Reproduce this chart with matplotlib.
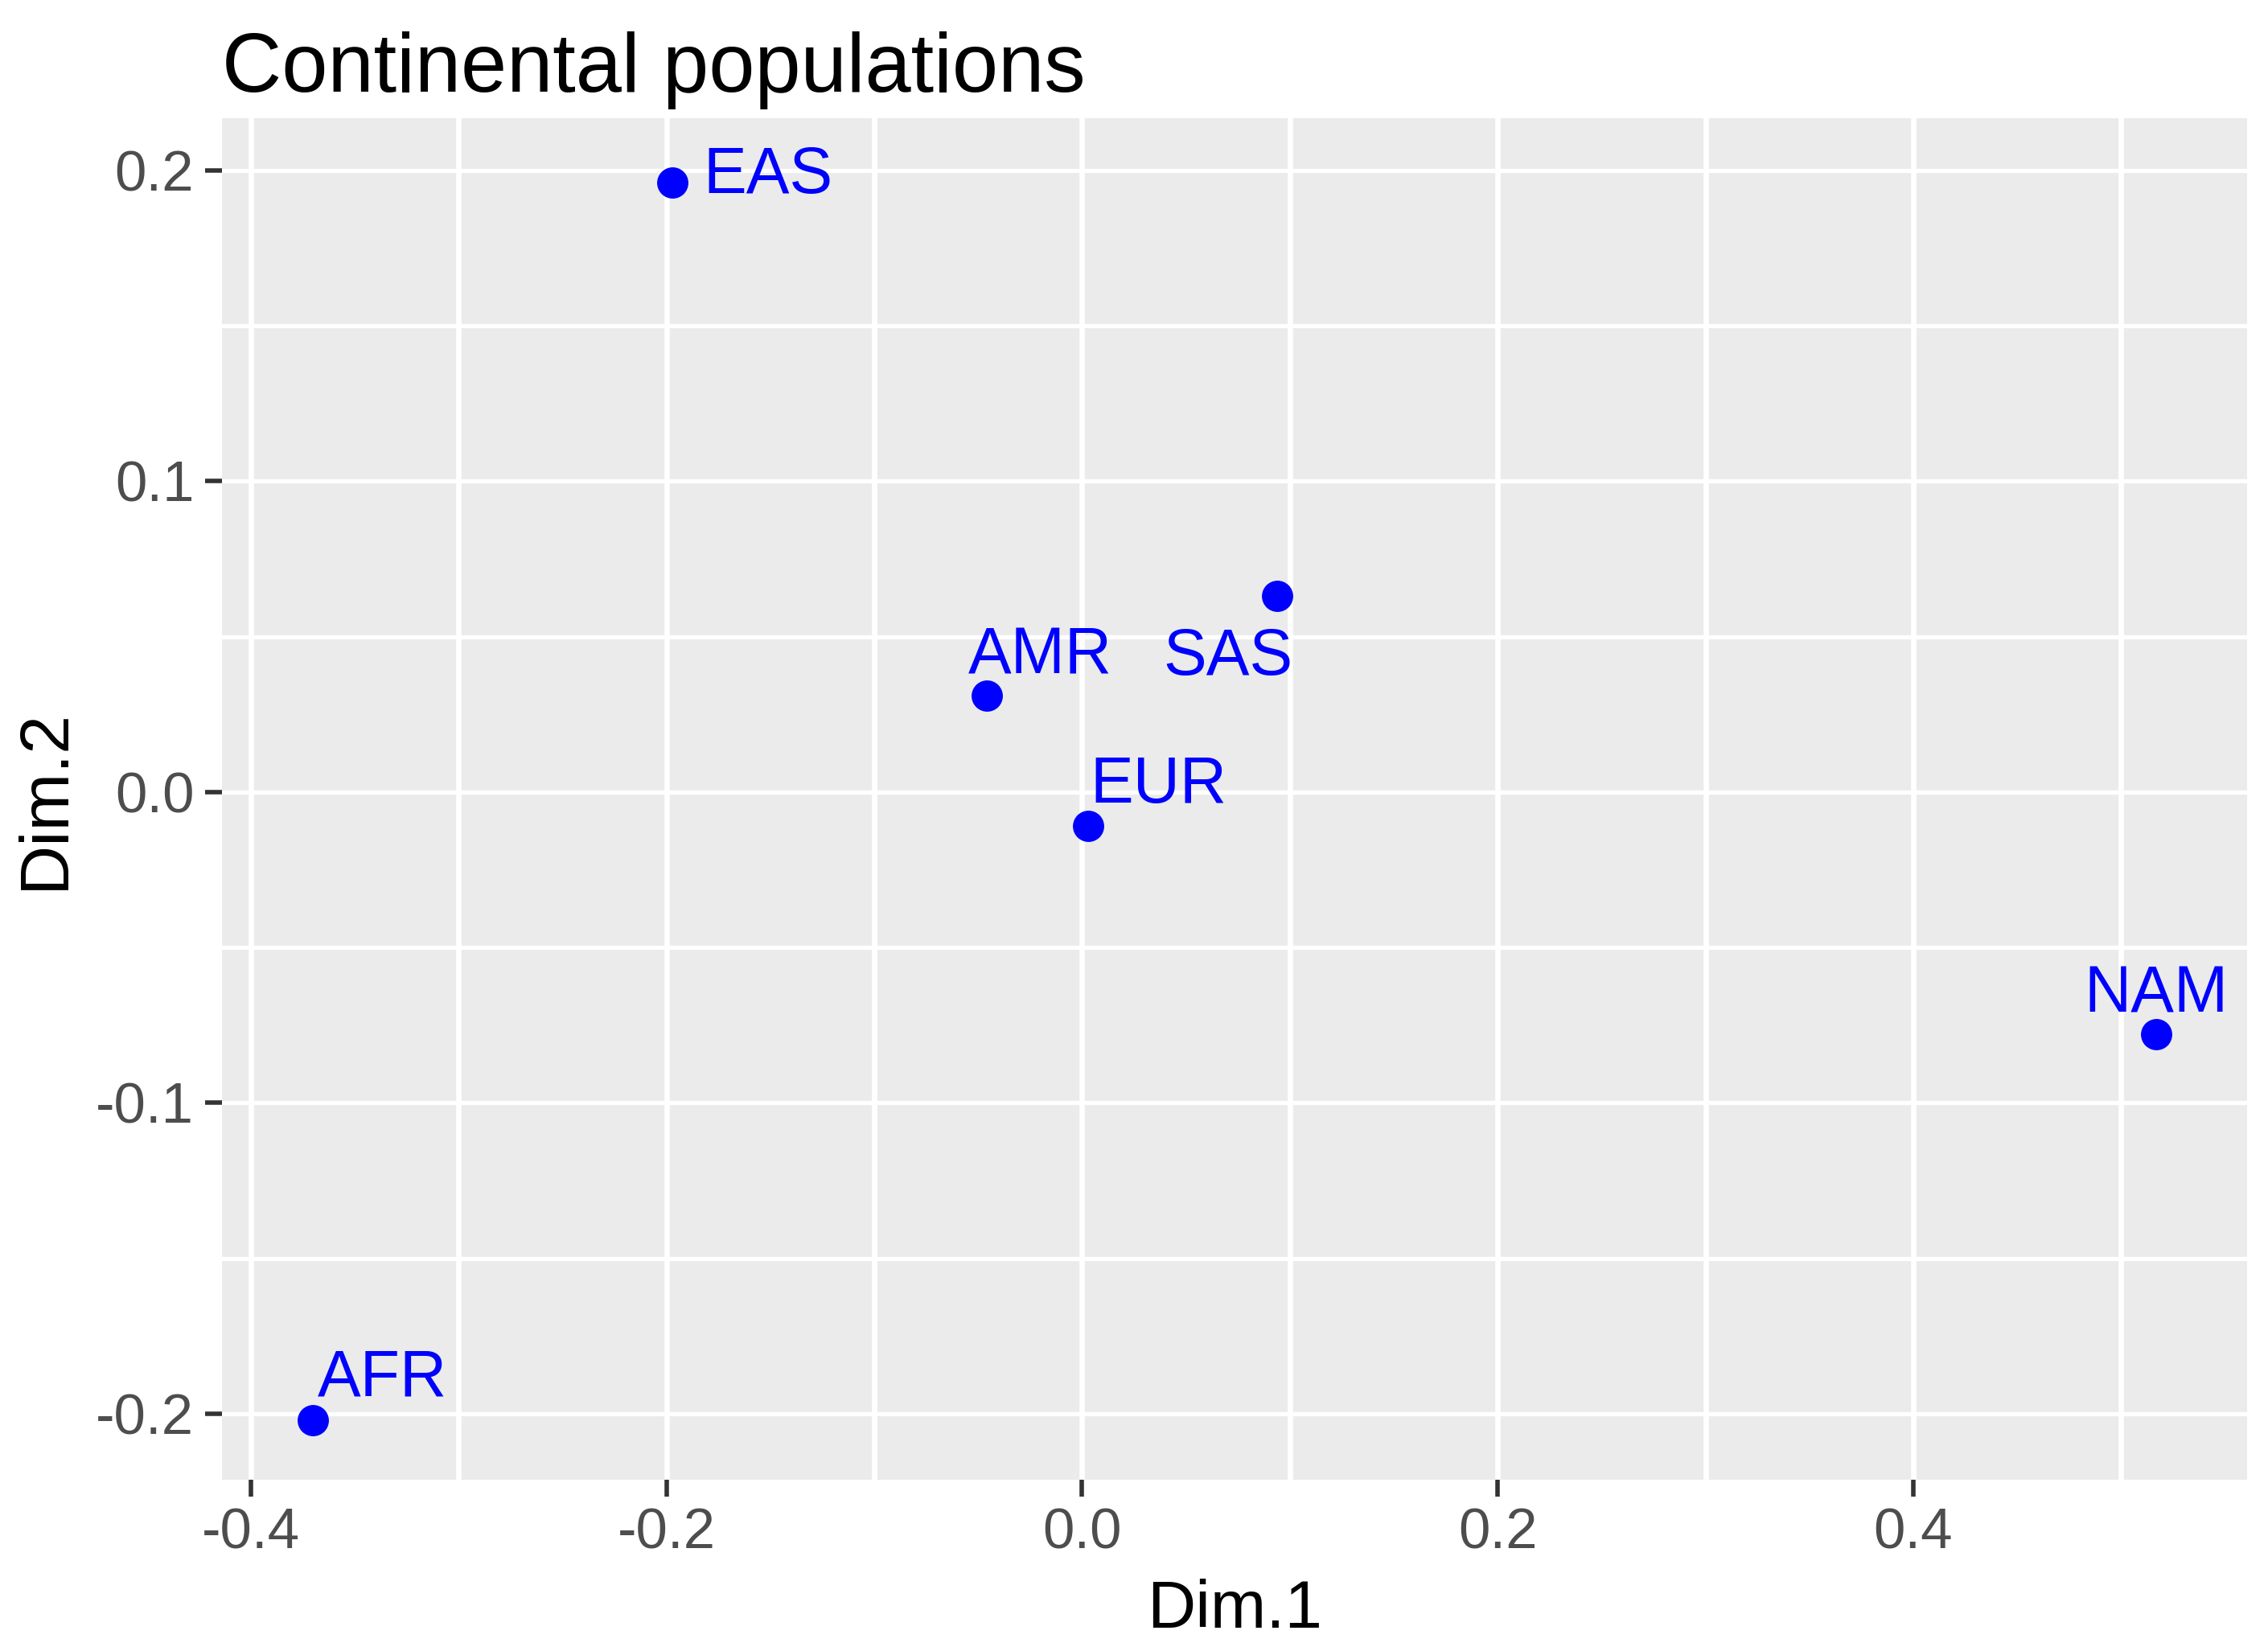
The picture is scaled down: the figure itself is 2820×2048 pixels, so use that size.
import matplotlib
matplotlib.use("Agg")
import matplotlib.pyplot as plt
from matplotlib.ticker import FixedLocator

plt.rcParams['font.family'] = ['Liberation Sans', 'DejaVu Sans']

# MDS coordinates of the continental populations
pops = ['EAS', 'SAS', 'AMR', 'EUR', 'NAM', 'AFR']
dim1 = [-0.197, 0.094, -0.046, 0.003, 0.517, -0.370]
dim2 = [0.196, 0.063, 0.031, -0.011, -0.078, -0.202]

# label placement (offset in points, horizontal alignment)
label_style = {
    'EAS': ((13.5, -4.5), 'left'),
    'SAS': ((-22, -35), 'center'),
    'AMR': ((24, 10), 'center'),
    'EUR': ((31.5, 10.5), 'center'),
    'NAM': ((0, 10), 'center'),
    'AFR': ((31, 11), 'center'),
}

fig = plt.figure(figsize=(14.1, 10.24), dpi=200)
ax = fig.add_axes([0.0979, 0.1016, 0.8929, 0.8266])
ax.set_facecolor('#EBEBEB')
for s in ax.spines.values():
    s.set_visible(False)

ax.plot(dim1, dim2, 'o', color='#0000FF', markersize=14, markeredgewidth=0, zorder=3)
for name, x, y in zip(pops, dim1, dim2):
    off, ha = label_style[name]
    ax.annotate(name, (x, y), xytext=off, textcoords='offset points',
                ha=ha, va='baseline', color='#0000FF', fontsize=29, zorder=4)

ax.set_xlim(-0.4139, 0.5607)
ax.set_ylim(-0.2212, 0.2168)
ax.xaxis.set_major_locator(FixedLocator([-0.4, -0.2, 0.0, 0.2, 0.4]))
ax.xaxis.set_minor_locator(FixedLocator([-0.3, -0.1, 0.1, 0.3, 0.5]))
ax.yaxis.set_major_locator(FixedLocator([-0.2, -0.1, 0.0, 0.1, 0.2]))
ax.yaxis.set_minor_locator(FixedLocator([-0.15, -0.05, 0.05, 0.15]))
ax.set_xticklabels(['-0.4', '-0.2', '0.0', '0.2', '0.4'])
ax.set_yticklabels(['-0.2', '-0.1', '0.0', '0.1', '0.2'])

ax.xaxis.grid(True, which='both', color='white', linewidth=2.4)
ax.yaxis.grid(True, which='both', color='white', linewidth=1.9)
ax.set_axisbelow(True)

ax.tick_params(which='major', length=7.5, width=2.0, color='#333333',
               labelcolor='#4D4D4D', labelsize=25.5, pad=5)
ax.tick_params(which='minor', length=0)

ax.set_xlabel('Dim.1', fontsize=30, labelpad=8)
ax.set_ylabel('Dim.2', fontsize=31, labelpad=8)
ax.set_title('Continental populations', loc='left', fontsize=37, pad=12)

fig.savefig('out.png', dpi=200)
